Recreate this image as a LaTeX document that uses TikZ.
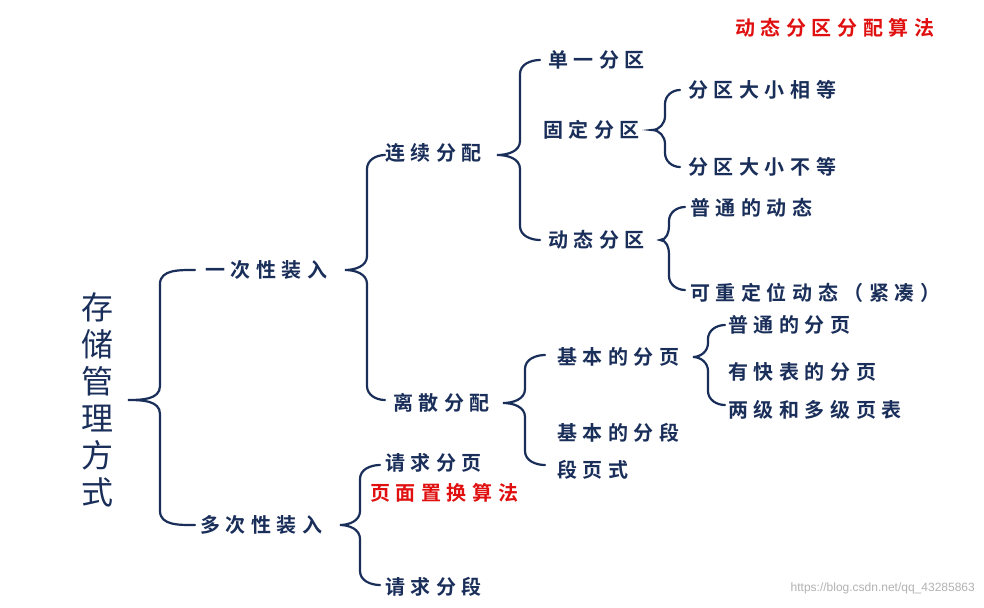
\documentclass[tikz,border=0pt]{standalone}
\usepackage{fontspec}
\newfontfamily\cjk{Noto Sans CJK SC}[BoldFont={* Bold},LetterSpace=28]
\definecolor{navy}{HTML}{1A2E5A}
\definecolor{bred}{HTML}{E01010}
\begin{document}
\begin{tikzpicture}[x=1pt,y=-1pt,
  br/.style={draw=navy,line width=2.2pt,line cap=round},
  lab/.style={anchor=west,inner sep=0pt,text=navy,font=\cjk\bfseries\fontsize{20}{24}\selectfont},
  redlab/.style={anchor=west,inner sep=0pt,text=bred,font=\cjk\bfseries\fontsize{20}{24}\selectfont}]
\useasboundingbox[fill=white] (0,0) rectangle (984,607);
\newcommand\brc[6]{\draw[br] (#3,#4) to[out=180,in=90] (#2,#4+14) -- (#2,#5-14) to[out=-90,in=0] (#1,#5) to[out=0,in=90] (#2,#5+14) -- (#2,#6-14) to[out=-90,in=180] (#3,#6);}
\brc{128}{160}{195}{270}{400}{525}
\brc{345}{367}{385}{155}{270}{400}
\brc{340}{360}{380}{465}{525}{585}
\brc{497}{520}{540}{60}{155}{240}
\brc{652}{665}{680}{90}{130}{167}
\brc{660}{669}{685}{207}{240}{290}
\brc{503}{525}{545}{355}{403}{465}
\brc{693}{708}{725}{325}{357}{405}
\node[text=navy,font=\fontspec{Noto Sans CJK SC}\fontsize{32}{37}\selectfont,align=center,inner sep=0pt] (root) at (97,400) {存\\储\\管\\理\\方\\式};
\node[lab] (a) at (205,270) {一次性装入};
\node[lab] (b) at (200,525) {多次性装入};
\node[lab] (a1) at (385,153) {连续分配};
\node[lab] (a2) at (393,403) {离散分配};
\node[lab] (b1) at (385,463) {请求分页};
\node[redlab] (b1r) at (370,493) {页面置换算法};
\node[lab] (b2) at (385,587) {请求分段};
\node[lab] (c1) at (548,60) {单一分区};
\node[lab] (c2) at (543,130) {固定分区};
\node[lab] (c3) at (548,240) {动态分区};
\node[lab] (d1) at (688,90) {分区大小相等};
\node[lab] (d2) at (688,167) {分区大小不等};
\node[lab] (e1) at (690,208) {普通的动态};
\node[lab] (e2) at (690,293) {可重定位动态（紧凑）};
\node[lab] (f1) at (557,357) {基本的分页};
\node[lab] (f2) at (557,433) {基本的分段};
\node[lab] (f3) at (557,470) {段页式};
\node[lab] (g1) at (728,325) {普通的分页};
\node[lab] (g2) at (728,372) {有快表的分页};
\node[lab] (g3) at (728,410) {两级和多级页表};
\node[redlab] (alg) at (735,28) {动态分区分配算法};
\node[anchor=east,inner sep=0pt,text=black!30,font=\fontspec{Liberation Sans}\fontsize{12}{14}\selectfont] (wm) at (975,588) {https://blog.csdn.net/qq\_43285863};
\end{tikzpicture}
\end{document}
